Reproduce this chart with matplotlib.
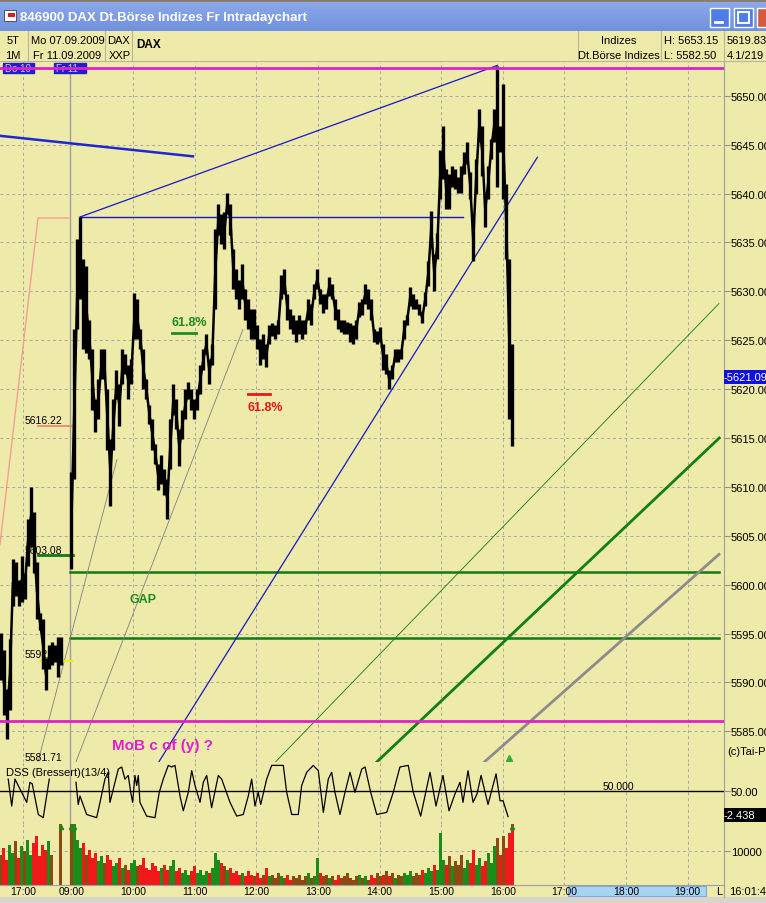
import numpy as np
import matplotlib.pyplot as plt
from matplotlib.patches import Rectangle

plt.rcParams['font.family'] = ['Liberation Sans', 'DejaVu Sans']

# x axis unit: chart minutes from 09:00 (previous evening squeezed in to the left)
# ---- previous day (Do 10), sampled every ~3 minutes
prev_hi = [5595.1, 5593.3, 5589.3, 5594.4, 5602.6, 5602.3, 5600.5, 5602.9, 5601.2, 5606.7, 5610.0,
           5607.4, 5602.3, 5597.1, 5596.5, 5592.5, 5593.8, 5594.1, 5593.8, 5594.7, 5594.7]
prev_lo = [5590.3, 5586.7, 5584.2, 5587.2, 5597.8, 5598.8, 5597.8, 5598.2, 5598.5, 5601.9, 5603.9,
           5601.2, 5596.5, 5595.4, 5591.4, 5589.2, 5591.4, 5591.8, 5592.1, 5590.6, 5591.8]
prev_vol = [9000, 11000, 7500, 12000, 9500, 13000, 8000, 11500, 10000, 13500, 9000,
            12500, 14500, 8500, 12000, 10500, 13000, 9000, 0, 0, 20000]

# ---- Fr 11, from 09:00
day_hi = [5611.5, 5626.1, 5635.3, 5637.6, 5633.3, 5632.6, 5627.1, 5624.1, 5619.0, 5621.0,
          5624.1, 5624.1, 5620.0, 5614.9, 5619.0, 5622.0, 5620.5, 5624.1, 5623.6, 5622.5,
          5623.1, 5629.8, 5629.2, 5626.1, 5624.1, 5621.0, 5618.4, 5616.9, 5614.4, 5612.3,
          5613.3, 5611.8, 5610.8, 5616.9, 5620.5, 5619.0, 5615.9, 5617.9, 5620.0, 5620.7,
          5620.0, 5619.0, 5620.0, 5622.5, 5624.1, 5625.6, 5623.1, 5624.6, 5636.4, 5638.9,
          5637.9, 5638.1, 5640.1, 5638.9, 5634.3, 5632.3, 5631.2, 5632.8, 5630.2, 5629.2,
          5628.2, 5628.2, 5626.6, 5625.1, 5625.6, 5624.6, 5626.6, 5626.8, 5626.6, 5627.1,
          5631.7, 5632.3, 5629.7, 5628.2, 5627.6, 5627.1, 5627.6, 5627.1, 5627.1, 5629.2,
          5628.7, 5630.7, 5632.3, 5630.2, 5629.7, 5629.7, 5631.5, 5630.7, 5629.2, 5628.2,
          5627.1, 5627.1, 5626.9, 5626.8, 5626.6, 5627.1, 5628.9, 5629.2, 5630.7, 5630.2,
          5629.2, 5626.1, 5625.9, 5626.4, 5624.6, 5623.6, 5622.0, 5622.5, 5624.1, 5624.1,
          5624.1, 5627.1, 5627.6, 5630.4, 5629.7, 5629.2, 5628.7, 5627.8, 5629.9, 5633.1,
          5638.2, 5633.8, 5636.0, 5644.5, 5646.9, 5642.5, 5642.0, 5642.8, 5642.5, 5641.7,
          5642.8, 5644.2, 5645.3, 5642.2, 5637.4, 5643.5, 5648.6, 5646.9, 5640.1, 5642.8,
          5645.6, 5648.6, 5653.0, 5646.9, 5651.2, 5641.0, 5633.3, 5624.6]
day_lo = [5601.6, 5610.8, 5626.1, 5629.2, 5624.1, 5623.7, 5623.1, 5617.9, 5615.6, 5616.9,
          5621.0, 5621.0, 5613.8, 5608.0, 5613.8, 5619.0, 5616.2, 5620.5, 5621.5, 5619.0,
          5620.5, 5625.1, 5625.1, 5624.1, 5620.0, 5619.0, 5616.4, 5613.8, 5612.3, 5609.7,
          5610.3, 5609.2, 5606.7, 5611.8, 5617.4, 5615.9, 5612.1, 5614.9, 5616.9, 5619.0,
          5617.9, 5616.9, 5617.9, 5619.5, 5622.0, 5623.6, 5620.5, 5622.5, 5628.2, 5635.8,
          5634.8, 5634.3, 5637.9, 5635.8, 5630.2, 5629.2, 5628.2, 5629.2, 5627.1, 5626.1,
          5625.1, 5625.1, 5624.1, 5622.5, 5623.1, 5622.3, 5624.6, 5625.4, 5625.1, 5625.6,
          5629.2, 5629.7, 5627.1, 5626.1, 5625.6, 5624.8, 5625.6, 5625.1, 5625.6, 5627.1,
          5626.6, 5629.2, 5630.2, 5628.7, 5627.8, 5628.2, 5629.5, 5629.2, 5627.1, 5626.1,
          5625.8, 5625.6, 5625.6, 5624.8, 5624.6, 5625.1, 5627.4, 5627.6, 5628.7, 5628.2,
          5627.1, 5624.8, 5624.6, 5624.8, 5622.0, 5621.5, 5620.0, 5621.0, 5622.8, 5622.8,
          5623.1, 5625.1, 5626.6, 5628.5, 5628.2, 5628.2, 5627.6, 5626.8, 5628.5, 5630.5,
          5634.6, 5630.0, 5633.3, 5639.4, 5641.5, 5638.4, 5638.4, 5640.7, 5640.5, 5640.1,
          5640.1, 5642.0, 5643.0, 5639.4, 5633.1, 5639.9, 5645.3, 5641.8, 5636.6, 5639.4,
          5643.5, 5645.3, 5640.7, 5644.2, 5639.4, 5633.3, 5616.9, 5614.2]
day_vol = [20000, 20000, 13500, 11000, 12500, 9000, 10500, 8000, 9500, 7000,
           8500, 6500, 9000, 7500, 5500, 6500, 8000, 5000, 6000, 4500,
           6500, 7500, 5500, 6000, 8000, 5000, 4500, 6500, 5500, 4000,
           5000, 6000, 4500, 5500, 7500, 4000, 5000, 3500, 4500, 3000,
           4000, 5500, 3500, 4500, 3000, 4000, 3500, 5000, 9500, 7500,
           6500, 5500, 4500, 5000, 3500, 4000, 3000, 3500, 2500, 4000,
           3000, 2500, 3500, 2000, 3000, 5000, 2500, 3000, 2000, 3500,
           2500, 2000, 3000, 1500, 2500, 2000, 3000, 1500, 2500, 3500,
           2000, 2500, 8000, 3500, 2500, 3000, 2000, 2500, 1500, 3000,
           2000, 2500, 3500, 2000, 1500, 2500, 3000, 2000, 2500, 1500,
           3000, 2000, 3500, 2500, 3000, 4000, 2500, 3500, 2000, 3000,
           2500, 3500, 3000, 4000, 2500, 3500, 3000, 4500, 3500, 5000,
           4000, 6000, 4500, 15500, 7500, 6000, 8500, 5500, 7000, 6000,
           9000, 5000, 7500, 6500, 10500, 6000, 8000, 5500, 7000, 9500,
           6500, 11500, 14000, 9000, 14500, 11000, 15500, 20000]

# DSS (Bressert) turning points
dss_prev_t = [-61.6, -58.2, -55.0, -43.6, -40.4, -38.2, -32.3, -27.5, -21.6]
dss_prev_v = [73, 22, 73, 29, 67, 64, 6, 0, 73]
dss_t = [4.4, 6.6, 8.3, 14.8, 24.5, 27.8, 32.6, 35.8, 37.5, 45.6, 48.9, 52.1, 55.3, 57.7, 59.6,
         61.8, 63.5, 65.1, 66.7, 73.2, 81.3, 85.5, 89.4, 94.3, 97.6, 100.8, 105.7, 108.9, 113.8,
         117.1, 120.3, 125.2, 128.4, 131.7, 136.5, 143.0, 146.3, 154.4, 160.9, 167.3, 172.2,
         175.5, 178.7, 181.9, 184.3, 190.1, 195.0, 206.3, 209.6, 214.5, 220.9, 224.2, 229.1,
         235.5, 240.4, 245.3, 250.1, 253.4, 256.6, 261.5, 266.4, 271.3, 276.1, 282.7, 285.9,
         291.4, 297.3, 307.0, 313.4, 319.9, 328.0, 332.9, 340.1, 349.2, 355.0, 361.8, 367.7,
         373.5, 378.4, 381.3, 386.2, 391.1, 395.0, 398.9, 405.7, 413.5, 417.4, 420.3, 425.2]
dss_v = [67, 25, 41, 6, 0, 29, 73, 86, 29, 92, 96, 73, 80, 48, 29,
         80, 61, 80, 29, 3, 0, 48, 73, 99, 96, 99, 41, 13, 48,
         89, 61, 29, 67, 80, 19, 80, 73, 29, 3, 6, 41,
         73, 22, 48, 25, 73, 99, 99, 48, 6, 6, 61, 86,
         99, 89, 10, 73, 86, 48, 6, 48, 86, 48, 92, 96,
         48, 6, 10, 48, 96, 99, 48, 3, 86, 22, 80, 13,
         45, 67, 29, 89, 29, 45, 80, 25, 83, 32, 32, 2]

# drawn levels and trend lines (minutes, price)
level_top = 5652.8
level_bottom = 5586.1
gap_top = 5601.3
gap_bottom = 5594.6
blue_left = [(-69.6, 5645.9), (118.3, 5643.8)]
blue_top = [(8.3, 5637.6), (414.9, 5653.1)]
blue_flat = [(8.3, 5637.6), (381.3, 5637.6)]
blue_up = [(85.2, 5581.9), (453.7, 5643.7)]
grey_a = [(4.4, 5581.9), (167.0, 5626.1)]
grey_b = [(-32.6, 5581.9), (44.3, 5612.8)]
salmon = [(-69.6, 5604.1), (-32.6, 5637.5), (-1.5, 5637.5)]
green_thin = [(198.9, 5581.9), (630.6, 5628.75)]
green_thick = [(297.6, 5581.9), (630.9, 5615.0)]
grey_thick = [(402.4, 5581.9), (630.6, 5603.1)]

price_ticks = list(range(5585, 5651, 5))
hour_pos = [-47, 0, 60, 120, 180, 240, 300, 360, 420, 480, 540, 600]
hour_lbl = ['17:00', '09:00', '10:00', '11:00', '12:00', '13:00', '14:00', '15:00',
            '16:00', '17:00', '18:00', '19:00']

BG = '#EEEAAA'
GRID = '#A8A8A0'
MAG = '#E020D0'
BLUE = '#1818C8'
DKGREEN = '#147814'
W, H = 766.0, 904.0
XL = (-69.6, 635.5)

fig = plt.figure(figsize=(7.66, 9.04), dpi=100)
fig.patch.set_facecolor(BG)


def panel(top, bottom):
    a = fig.add_axes([0, 1 - bottom / H, 724 / W, (bottom - top) / H])
    a.set_facecolor(BG)
    a.set_xlim(*XL)
    for s in ['left', 'top', 'bottom']:
        a.spines[s].set_visible(False)
    a.spines['right'].set_color('#A0A0A0')
    a.yaxis.tick_right()
    a.tick_params(axis='y', direction='out', length=4, pad=1, labelsize=8, color='#909090')
    a.set_xticks([])
    for x in hour_pos:
        if x != 0:
            a.axvline(x, color=GRID, lw=0.7, ls=(0, (3, 3)), zorder=0)
    a.axvline(-1.5, color='#A0A0A0', lw=1, zorder=0)
    return a


ax = panel(62, 762.7)
ax_d = panel(762.7, 825)
ax_v = panel(825, 885.5)

# ---------------- price panel
ax.set_ylim(5581.9, 5653.55)
ax.set_yticks(price_ticks)
ax.set_yticklabels(['%.2f' % p for p in price_ticks])
for p in price_ticks:
    ax.axhline(p, color=GRID, lw=0.7, ls=(0, (3, 3)), zorder=0)

t_prev = -68.7 + 2.92 * np.arange(len(prev_hi))
t_day = 2.92 * np.arange(len(day_hi))
for t, hi, lo in [(t_prev, prev_hi, prev_lo), (t_day, day_hi, day_lo)]:
    hi = np.array(hi)
    lo = np.array(lo)
    ax.vlines(t, lo, hi, color='black', lw=2.4, zorder=4)
    ax.plot(t, (hi + lo) / 2, color='black', lw=1.8, zorder=4)

ax.axhline(level_top, color=MAG, lw=2, zorder=5)
ax.axhline(level_bottom, color=MAG, lw=2, zorder=5)
ax.plot([-1.5, 630.6], [gap_top, gap_top], color=DKGREEN, lw=1.8, zorder=3)
ax.plot([-1.5, 630.6], [gap_bottom, gap_bottom], color=DKGREEN, lw=1.8, zorder=3)


def seg(pts, **kw):
    xs, ys = zip(*pts)
    ax.plot(xs, ys, **kw)


seg(blue_left, color='#1E28D2', lw=1.8, zorder=3)
seg(blue_top, color=BLUE, lw=0.9, zorder=3)
seg(blue_flat, color=BLUE, lw=1.0, zorder=3)
seg(blue_up, color=BLUE, lw=0.9, zorder=3)
seg(grey_a, color='#808080', lw=0.6, zorder=3)
seg(grey_b, color='#808080', lw=0.6, zorder=3)
seg(salmon, color='#F4A090', lw=1.0, zorder=3)
seg(green_thin, color=DKGREEN, lw=0.6, zorder=3)
seg(green_thick, color='#108010', lw=2.0, zorder=3)
seg(grey_thick, color='#8C8C8C', lw=2.0, zorder=3)

# value marks left
ax.plot([-32.6, 0.5], [5616.2, 5616.2], color='#F08070', lw=1.2, zorder=3)
ax.plot([-32.6, 1.5], [5603.0, 5603.0], color=DKGREEN, lw=2, zorder=3)
ax.plot([-30.7, 0.5], [5592.2, 5592.2], color='#F0F000', lw=1.5, zorder=3)
for y, s in [(5616.8, '5616.22'), (5603.5, '5603.08'), (5592.9, '5592.30'), (5582.4, '5581.71')]:
    ax.text(-45.3, y, s, fontsize=7.5, va='center', ha='left', zorder=6)

ax.text(97.9, 5626.9, '61.8%', color='#1E8C1E', fontsize=9, fontweight='bold', va='center')
ax.plot([97.9, 121.3], [5625.7, 5625.7], color='#1E8C1E', lw=2)
ax.text(171.9, 5618.2, '61.8%', color='#E81818', fontsize=9, fontweight='bold', va='center')
ax.plot([171.9, 193.3], [5619.5, 5619.5], color='#E81818', lw=2)
ax.text(57.0, 5598.5, 'GAP', color='#1E8C1E', fontsize=9, fontweight='bold', va='center')
ax.text(39.4, 5583.6, 'MoB c of (y) ?', color=MAG, fontsize=11, fontweight='bold', va='center', zorder=6)
ax.plot([426.1], [5582.3], marker='^', color='#30B030', ms=5, clip_on=False, zorder=6)

# day tags
for x0, x1, s in [(-66.7, -36.5, 'Do 10'), (-17.0, 14.2, 'Fr 11')]:
    ax.add_patch(Rectangle((x0, 5652.35), x1 - x0, 1.0, color='#2020C8', zorder=4))
    ax.text(x0 + 2, 5652.85, s, color='#C8C8FF', fontsize=7, va='center', zorder=4)

# ---------------- DSS panel
ax_d.set_ylim(-12, 106)
ax_d.set_yticks([50])
ax_d.set_yticklabels(['50.00'])
ax_d.axhline(50, color='black', lw=1)
ax_d.plot(dss_prev_t, dss_prev_v, color='black', lw=0.9)
ax_d.plot(dss_t, dss_v, color='black', lw=0.9)

# ---------------- volume panel
ax_v.set_ylim(0, 18150)
ax_v.set_yticks([10000])
ax_v.set_yticklabels(['10000'])
ax_v.axhline(10000, color=GRID, lw=0.7, ls=(0, (3, 3)), zorder=0)
ax_v.spines['bottom'].set_visible(True)
ax_v.spines['bottom'].set_color('#A0A0A0')
for t, hi, lo, vol in [(t_prev, prev_hi, prev_lo, prev_vol), (t_day, day_hi, day_lo, day_vol)]:
    mid = (np.array(hi) + np.array(lo)) / 2
    chg = np.diff(mid, prepend=mid[0])
    cols = ['#1A8C1A' if c > 0.8 else '#F01818' if c < -0.8 else '#8C4A10' for c in chg]
    ax_v.bar(t, vol, width=2.92, color=cols, linewidth=0)
    big = np.array(vol) > 18000
    ax_v.plot(np.array(t)[big], np.full(big.sum(), 17400), ls='none', marker='^', ms=3,
              color='#1A8C1A')

# ---------------- window chrome / header
cx = fig.add_axes([0, 0, 1, 1], zorder=10)
cx.set_xlim(0, W)
cx.set_ylim(H, 0)
cx.axis('off')
cx.patch.set_alpha(0)

grad = np.linspace(0, 1, 32)[:, None, None]
top_c = np.array([0.56, 0.67, 0.92])
bot_c = np.array([0.44, 0.57, 0.87])
cx.imshow(top_c * (1 - grad) + bot_c * grad, extent=[0, W, 32, 0], aspect='auto', zorder=1)
cx.plot([0, W], [1, 1], color='#8C7C6C', lw=2, zorder=2)
cx.add_patch(Rectangle((4, 11), 12, 11, fc='white', ec='#404040', lw=0.6, zorder=2))
cx.add_patch(Rectangle((8, 14), 7, 4, fc='#D02020', zorder=3))
cx.text(20, 18, '846900 DAX Dt.Börse Indizes Fr Intradaychart', color='white',
        fontsize=9.5, fontweight='bold', va='center', ha='left', zorder=3)
for x0, fc in [(710, '#4E7CE8'), (734, '#4E7CE8'), (757, '#D85A3C')]:
    cx.add_patch(Rectangle((x0, 9), 19, 19, fc=fc, ec='white', lw=1, zorder=3))
cx.plot([715, 722], [23, 23], color='white', lw=2, zorder=4)
cx.add_patch(Rectangle((738, 13), 11, 11, fc='none', ec='white', lw=1.5, zorder=4))

for x in [28, 105, 132, 578, 661, 724]:
    cx.plot([x, x], [32, 62], color='#B8B59C', lw=0.8)
cx.plot([0, W], [62, 62], color='#B8B59C', lw=0.8)
for x, y, s, ha in [(13, 41, '5T', 'center'), (13, 56, '1M', 'center'),
                    (31, 41, 'Mo 07.09.2009', 'left'), (33, 56, 'Fr 11.09.2009', 'left'),
                    (107, 41, 'DAX', 'left'), (109, 56, 'XXP', 'left'),
                    (619, 41, 'Indizes', 'center'), (619, 56, 'Dt.Börse Indizes', 'center'),
                    (664, 41, 'H: 5653.15', 'left'), (664, 56, 'L: 5582.50', 'left'),
                    (727, 41, '5619.83', 'left'), (727, 56, '4.1/219', 'left')]:
    cx.text(x, y, s, fontsize=8, va='center', ha=ha)
cx.text(136, 45, 'DAX', fontsize=8.5, fontweight='bold', va='center')

# right side value boxes
cx.add_patch(Rectangle((724, 371), 42, 14, fc='#1010E0'))
cx.text(724, 378, '-5621.09', color='white', fontsize=8, va='center')
cx.add_patch(Rectangle((724, 809), 42, 14, fc='black'))
cx.text(724, 816, '-2.438', color='white', fontsize=8, va='center')
cx.text(727, 752, '(c)Tai-Pan', fontsize=8, va='center')
cx.text(6, 773, 'DSS (Bressert)(13/4)', fontsize=8, va='center')
cx.text(603, 787, '50.000', fontsize=7.5, va='center')

# time axis
cx.add_patch(Rectangle((568, 887), 138, 10, fc='#A8D4F4', ec='#80A8D8', lw=0.8, zorder=1))
cx.add_patch(Rectangle((0, 898), W, 6, fc='#D8D6CC', zorder=1))
for m, s in zip(hour_pos, hour_lbl):
    cx.text(71.5 + m / 0.974, 892, s, fontsize=7.5, ha='center', va='center', zorder=2)
cx.text(716, 892, 'L', fontsize=8, va='center', zorder=2)
cx.text(729, 892, '16:01:45', fontsize=8, va='center', zorder=2)
cx.plot([724, 724], [885, 898], color='#A0A0A0', lw=0.8)

fig.savefig('out.png', dpi=100, facecolor=fig.get_facecolor())
